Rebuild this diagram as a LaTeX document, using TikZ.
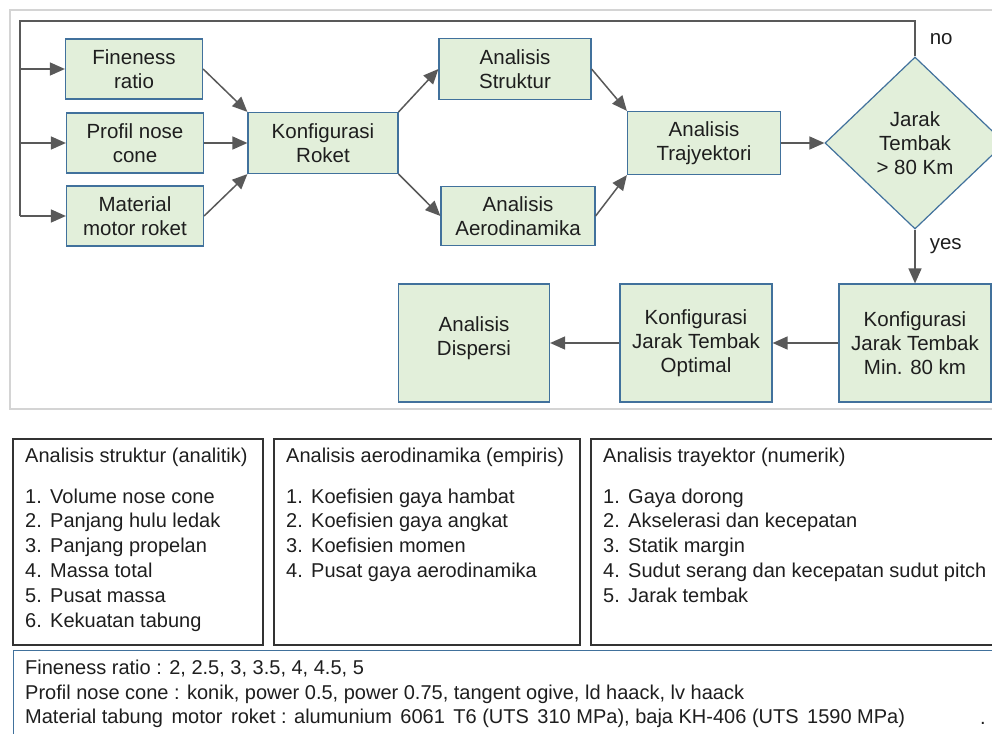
\documentclass[tikz,border=0pt]{standalone}
\usepackage{fontspec}
\setmainfont{Liberation Sans}
\usetikzlibrary{shapes.geometric,arrows.meta}
\definecolor{boxfill}{HTML}{E2EFDA}
\definecolor{boxline}{HTML}{41719C}
\definecolor{arrowgray}{HTML}{595959}
\definecolor{framegray}{HTML}{D4D4D4}
\definecolor{txtgray}{HTML}{1E1E1E}
\newcommand\listnum[1]{\makebox[25pt][l]{#1}}
\newcommand\wsp{\hspace{8.5pt}}
\tikzset{
  flow/.style={draw=boxline, fill=boxfill, line width=1.2pt, align=center, inner sep=0pt,
    text=txtgray, font=\fontsize{20.5}{24}\selectfont},
  smallbox/.style={flow, minimum width=137pt, minimum height=60pt},
  midbox/.style={flow, minimum width=152pt, minimum height=61pt},
  bigbox/.style={flow, minimum width=152pt, minimum height=118pt},
  cond/.style={flow, diamond, minimum width=180pt, minimum height=172pt},
  line/.style={draw=arrowgray, line width=1.5pt},
  conn/.style={line, ->},
  lbl/.style={inner sep=0pt, text=txtgray, font=\fontsize{20.5}{24}\selectfont},
  listbox/.style={draw=black!80, line width=1.8pt, anchor=north west, inner sep=0pt},
  listtxt/.style={anchor=north west, align=left, inner sep=0pt, text=txtgray,
    font=\fontsize{20}{24.8}\selectfont},
}
\begin{document}
\begin{tikzpicture}[x=1pt, y=-1pt, >={Triangle[length=15pt,width=13pt]}]
\useasboundingbox (0,0) rectangle (992,733);
\clip (0,0) rectangle (992,733);
% frame round the flow chart
\draw[framegray, line width=2pt] (10,10) rectangle (1010,409);

% inputs
\node[smallbox] (fineness) at (134,69) {Fineness\\ratio};
\node[smallbox] (nose) at (135,143) {Profil nose\\cone};
\node[smallbox] (motor) at (135,216) {Material\\motor roket};
% analyses
\node[midbox, minimum width=150pt] (konfig) at (323,143) {Konfigurasi\\Roket};
\node[midbox] (struktur) at (515,69) {Analisis\\Struktur};
\node[midbox, minimum width=154pt, minimum height=59pt] (aero) at (518,216) {Analisis\\Aerodinamika};
\node[midbox, minimum width=153pt, minimum height=63pt] (traj) at (704,143) {Analisis\\Trajyektori};
\node[cond] (jarak) at (915,143) {Jarak\\Tembak\\> 80 Km};
% results
\node[bigbox] (minjarak) at (915,343) {Konfigurasi\\Jarak Tembak\\Min. 80 km};
\node[bigbox] (optimal) at (696,343) {Konfigurasi\\Jarak Tembak\\Optimal};
\node[bigbox, minimum width=151pt] (dispersi) at (474,343) {Analisis\\Dispersi\\[-10pt]};

\draw[conn] (fineness.east) -- (konfig.north west);
\draw[conn] (nose) -- (konfig);
\draw[conn] (motor.east) -- (konfig.south west);
\draw[conn] (konfig.north east) -- (struktur.west);
\draw[conn] (konfig.south east) -- (aero.west);
\draw[conn] (struktur.east) -- (traj.north west);
\draw[conn] (aero.east) -- (traj.south west);
\draw[conn] (traj) -- (jarak);
\draw[conn] (jarak) -- node[lbl, pos=0.3, right=14pt] {yes} (minjarak);
\draw[conn] (minjarak) -- (optimal);
\draw[conn] (optimal) -- (dispersi);

% loop back when the range is too short
\coordinate (back) at (20,21);
\draw[line] (jarak.north) -- node[lbl, right=14pt] {no} (jarak.north |- back)
  -- (back) -- (back |- motor.west);
\foreach \n in {fineness,nose,motor}
  \draw[conn] (back |- \n.west) -- (\n.west);

% lists of outputs
\node[listbox, minimum width=250pt, minimum height=206pt] (strukbox) at (12,438) {};
\node[listbox, minimum width=306pt, minimum height=206pt] (aerobox) at (273,438) {};
\node[listbox, minimum width=420pt, minimum height=206pt] (trajbox) at (590,438) {};
\node[listtxt] (struklist) at (25,448) {Analisis struktur (analitik)\\[15.6pt]
  \listnum{1.}Volume nose cone\\
  \listnum{2.}Panjang hulu ledak\\
  \listnum{3.}Panjang propelan\\
  \listnum{4.}Massa total\\
  \listnum{5.}Pusat massa\\
  \listnum{6.}Kekuatan tabung};
\node[listtxt] (aerolist) at (286,448) {Analisis aerodinamika (empiris)\\[15.6pt]
  \listnum{1.}Koefisien gaya hambat\\
  \listnum{2.}Koefisien gaya angkat\\
  \listnum{3.}Koefisien momen\\
  \listnum{4.}Pusat gaya aerodinamika};
\node[listtxt] (trajlist) at (603,448) {Analisis trayektor (numerik)\\[15.6pt]
  \listnum{1.}Gaya dorong\\
  \listnum{2.}Akselerasi dan kecepatan\\
  \listnum{3.}Statik margin\\
  \listnum{4.}Sudut serang dan kecepatan sudut pitch\\
  \listnum{5.}Jarak tembak};

% variations
\node[listbox, draw=boxline, line width=1pt, minimum width=997pt, minimum height=110pt] (varbox) at (13,650) {};
\node[listtxt, font=\fontsize{20}{24.5}\selectfont] (varlist) at (25,660) {Fineness ratio : 2, 2.5, 3, 3.5, 4, 4.5, 5\\
  Profil nose cone : konik, power 0.5, power 0.75, tangent ogive, ld haack, lv haack\\
  Material tabung\wsp motor\wsp roket : alumunium\wsp 6061\wsp T6 (UTS\wsp 310 MPa), baja KH-406 (UTS\wsp 1590 MPa)};
\node[lbl, font=\fontsize{20}{24}\selectfont, anchor=base] (dot) at (983,724) {.};
\end{tikzpicture}
\end{document}
